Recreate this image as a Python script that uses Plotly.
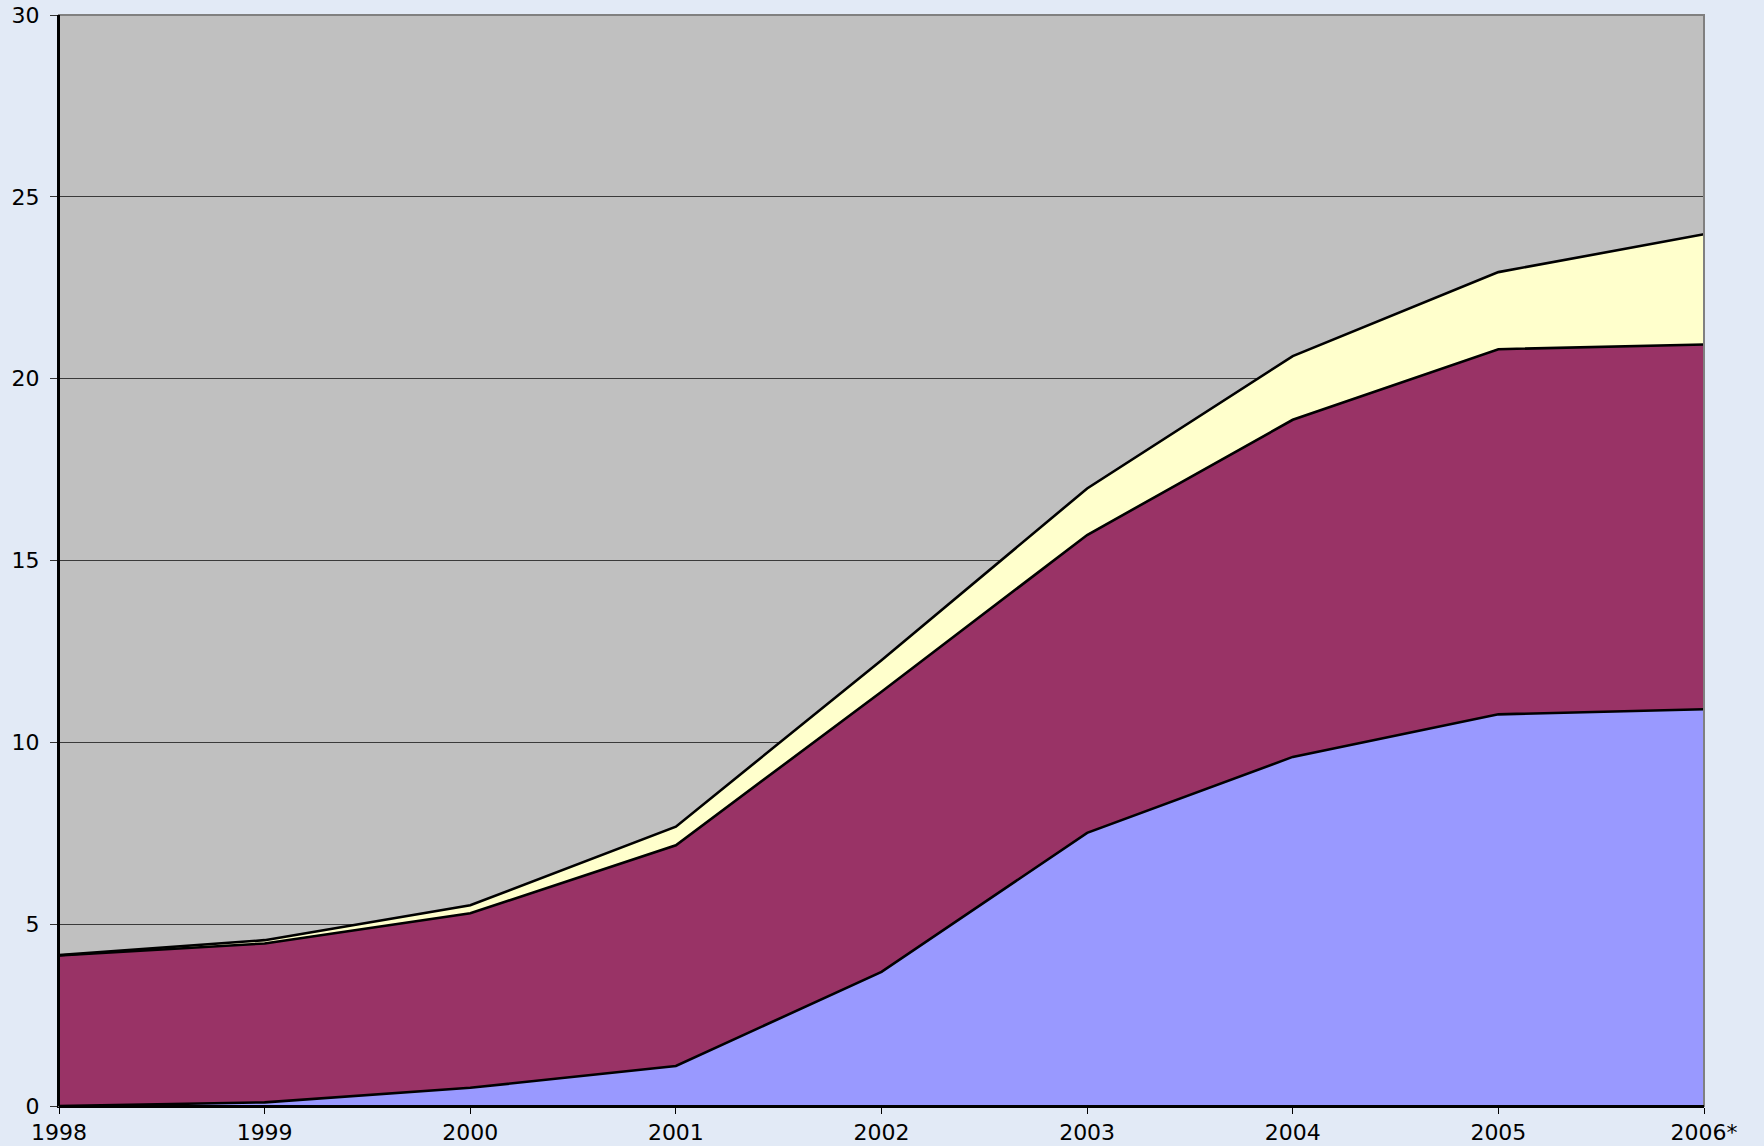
import plotly.graph_objects as go

years = ["1998", "1999", "2000", "2001", "2002", "2003", "2004", "2005", "2006*"]
series_blue = [0.0, 0.10, 0.50, 1.10, 3.69, 7.51, 9.60, 10.77, 10.91]
series_maroon = [4.14, 4.37, 4.80, 6.07, 7.70, 8.19, 9.27, 10.04, 10.03]
series_yellow = [0.01, 0.09, 0.22, 0.51, 0.87, 1.28, 1.75, 2.12, 3.03]
y_ticks = [0, 5, 10, 15, 20, 25, 30]

fig = go.Figure()
for vals, col in [(series_blue, "#9999FF"), (series_maroon, "#993366"), (series_yellow, "#FFFFCC")]:
    fig.add_trace(go.Scatter(
        x=years, y=vals, mode="lines", stackgroup="one",
        fillcolor=col, line=dict(color="black", width=2.6),
        hoverinfo="x+y",
    ))

fig.update_layout(
    width=1764, height=1146,
    margin=dict(l=59, r=60, t=14.5, b=40),
    paper_bgcolor="#e2eaf6",
    plot_bgcolor="#C0C0C0",
    showlegend=False,
    font=dict(family="DejaVu Sans", size=22, color="black"),
)
fig.update_xaxes(
    type="category", range=[0, 8], automargin=False,
    showgrid=False, showline=True, linecolor="black", linewidth=2,
    ticks="outside", ticklen=6, tickcolor="black", tickwidth=1,
    ticklabeloverflow="allow",
    tickfont=dict(family="DejaVu Sans", size=22, color="black"),
)
fig.update_yaxes(
    range=[0, 30], tickvals=y_ticks, automargin=False,
    showgrid=True, gridcolor="#3a3a3a", gridwidth=1,
    showline=True, linecolor="black", linewidth=2,
    ticks="outside", ticklen=7, tickcolor="#333", tickwidth=1,
    ticklabelstandoff=6, ticklabeloverflow="allow",
    zeroline=False,
    tickfont=dict(family="DejaVu Sans", size=22, color="black"),
)
fig.add_shape(type="rect", xref="paper", yref="paper", x0=0, x1=1, y0=0, y1=1,
              line=dict(color="#808080", width=2), layer="above")
fig.add_shape(type="line", xref="paper", yref="paper", x0=0, x1=0, y0=0, y1=1,
              line=dict(color="black", width=2), layer="above")
fig.add_shape(type="line", xref="paper", yref="paper", x0=0, x1=1, y0=0, y1=0,
              line=dict(color="black", width=2), layer="above")

fig.write_html(
    "out.html",
    config={"displayModeBar": False},
    post_script="document.body.style.margin='0';document.body.style.overflow='hidden';",
)
